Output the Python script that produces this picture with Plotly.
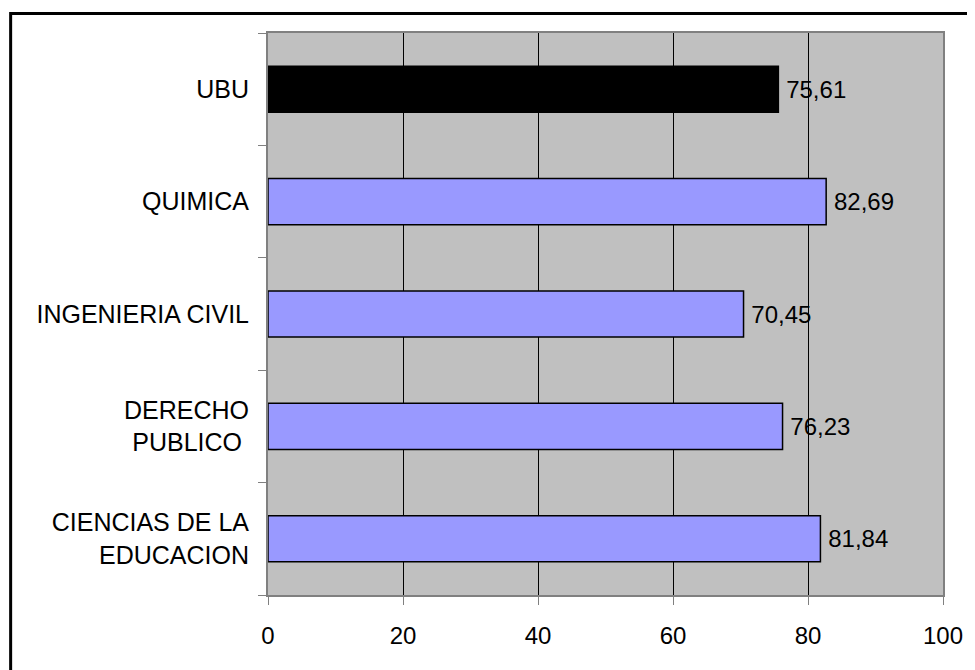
import plotly.graph_objects as go

categories = ["CIENCIAS DE LA<br>EDUCACION", "DERECHO<br>PUBLICO\u00a0", "INGENIERIA CIVIL", "QUIMICA", "UBU"]
values = [81.84, 76.23, 70.45, 82.69, 75.61]
bar_colors = ["#9999FF", "#9999FF", "#9999FF", "#9999FF", "#000000"]
x_ticks = [0, 20, 40, 60, 80, 100]

labels = ["\u2009" + f"{v:.2f}".replace(".", ",") for v in values]

FONT = "Liberation Sans, Arial, sans-serif"

fig = go.Figure(go.Bar(
    y=categories,
    x=values,
    orientation="h",
    marker=dict(color=bar_colors, line=dict(color="#000000", width=1.5)),
    text=labels,
    textposition="outside",
    textfont=dict(family=FONT, size=24, color="#000000"),
    cliponaxis=False,
    hoverinfo="skip",
))

# page body has an 8px margin; figure occupies 967x662 after it
W, H = 967, 662
L, R, T, B = 260, 29, 25, 75
pw, ph = W - L - R, H - T - B

fig.update_layout(
    width=W, height=H,
    margin=dict(l=L, r=R, t=T, b=B, pad=0),
    paper_bgcolor="#FFFFFF",
    plot_bgcolor="#C0C0C0",
    bargap=0.59,
    showlegend=False,
    font=dict(family=FONT, size=24, color="#000000"),
    xaxis=dict(
        range=[0, 100],
        tickvals=x_ticks,
        ticktext=[str(t) for t in x_ticks],
        showgrid=True, gridcolor="#000000", gridwidth=1,
        zeroline=False,
        showline=True, linecolor="#808080", linewidth=2, mirror=True,
        ticks="outside", ticklen=8, tickcolor="#808080", tickwidth=1,
        tickfont=dict(family=FONT, size=24, color="#000000"),
        ticklabelstandoff=10,
        fixedrange=True,
    ),
    yaxis=dict(
        type="category",
        categoryorder="array", categoryarray=categories,
        showgrid=False, zeroline=False,
        showline=True, linecolor="#808080", linewidth=2, mirror=True,
        ticks="outside", tickson="boundaries", ticklen=8, tickcolor="#808080", tickwidth=1,
        tickfont=dict(family=FONT, size=25, color="#000000"),
        ticklabelstandoff=12,
        fixedrange=True,
    ),
    shapes=[dict(
        type="rect", xref="paper", yref="paper",
        x0=(1.5 - L) / pw, x1=(W + 20 - L) / pw,
        y0=(H - B - (H + 20)) / ph, y1=(H - B - 5.5) / ph,
        line=dict(color="#000000", width=3),
        fillcolor="rgba(0,0,0,0)",
        layer="above",
    )],
)

fig.write_html("out.html")
